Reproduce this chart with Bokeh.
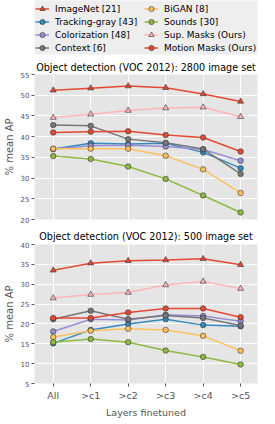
from bokeh.plotting import figure
from bokeh.models import Legend, LegendItem, Title, FixedTicker, Range1d
from bokeh.layouts import column
from bokeh.embed import file_html
from bokeh.resources import INLINE

layers = ["All", ">c1", ">c2", ">c3", ">c4", ">c5"]
xs = [0, 1, 2, 3, 4, 5]

names = ["ImageNet [21]", "Tracking-gray [43]", "Colorization [48]", "Context [6]",
         "BiGAN [8]", "Sounds [30]", "Sup. Masks (Ours)", "Motion Masks (Ours)"]

# 2800 image set
imagenet_2800 = [51.2, 51.7, 52.2, 51.8, 50.3, 48.5]
tracking_2800 = [37.0, 38.4, 38.2, 38.4, 36.2, 32.4]
colorization_2800 = [37.0, 37.8, 37.9, 37.6, 36.9, 34.2]
context_2800 = [42.8, 42.6, 39.4, 38.5, 37.0, 31.0]
bigan_2800 = [37.1, 37.1, 37.1, 35.4, 32.1, 26.4]
sounds_2800 = [35.3, 34.6, 32.8, 29.8, 25.8, 21.7]
supmasks_2800 = [44.6, 45.4, 46.3, 46.9, 47.1, 44.8]
motion_2800 = [41.0, 41.2, 41.3, 40.4, 39.8, 36.4]

# 500 image set
imagenet_500 = [33.5, 35.3, 35.9, 36.1, 36.4, 34.9]
tracking_500 = [15.1, 18.5, 20.0, 21.2, 19.7, 19.4]
colorization_500 = [18.1, 21.2, 21.0, 22.3, 22.0, 20.7]
context_500 = [21.2, 23.3, 21.2, 22.1, 21.5, 19.6]
bigan_500 = [16.7, 18.3, 18.8, 18.5, 17.0, 13.25]
sounds_500 = [15.4, 16.2, 15.4, 13.3, 11.7, 9.8]
supmasks_500 = [26.5, 27.4, 27.9, 29.8, 30.7, 28.9]
motion_500 = [21.5, 21.5, 22.9, 23.9, 23.9, 21.7]

colors = ["#E24A33", "#348ABD", "#988ED5", "#777777", "#FBC15E", "#8EBA42", "#FFB5B8", "#E24A33"]
markers = ["triangle", "circle", "circle", "circle", "circle", "circle", "triangle", "circle"]

series_2800 = [imagenet_2800, tracking_2800, colorization_2800, context_2800,
               bigan_2800, sounds_2800, supmasks_2800, motion_2800]
series_500 = [imagenet_500, tracking_500, colorization_500, context_500,
              bigan_500, sounds_500, supmasks_500, motion_500]

FONT = "DejaVu Sans"
W = 259


def make_fig(height, ylo, yhi, title, show_x, top, bottom, tstand):
    yt = list(range(ylo, yhi + 1, 5))
    p = figure(width=W, height=height, output_backend="svg", toolbar_location=None,
               x_range=Range1d(-0.5, 5.45), y_range=Range1d(ylo, yhi),
               min_border_left=4, min_border_right=2, min_border_top=top,
               min_border_bottom=bottom)
    p.background_fill_color = "#e5e5e5"
    p.border_fill_color = "white"
    p.outline_line_color = None
    p.grid.grid_line_color = "white"
    p.grid.grid_line_width = 1
    p.xgrid.ticker = FixedTicker(ticks=xs)
    p.ygrid.ticker = FixedTicker(ticks=yt)

    p.xaxis.ticker = FixedTicker(ticks=xs)
    p.xaxis.major_label_overrides = {i: l for i, l in zip(xs, layers)}
    p.xaxis.axis_line_color = None
    p.xaxis.major_tick_line_color = "#555555"
    p.xaxis.major_tick_out = 3
    p.xaxis.major_tick_in = 0
    p.xaxis.minor_tick_line_color = None
    p.xaxis.major_label_text_font = FONT
    p.xaxis.major_label_text_font_size = "9.5px"
    p.xaxis.major_label_text_color = "#555555"
    p.xaxis.major_label_standoff = 3
    p.xaxis.axis_label_text_font = FONT
    p.xaxis.axis_label_text_font_size = "9.5px"
    p.xaxis.axis_label_text_font_style = "normal"
    p.xaxis.axis_label_text_color = "#555555"
    p.xaxis.axis_label_standoff = 3
    if show_x:
        p.xaxis.axis_label = "Layers finetuned"
    else:
        p.xaxis.visible = False

    p.yaxis.ticker = FixedTicker(ticks=yt)
    p.yaxis.axis_line_color = None
    p.yaxis.major_tick_line_color = "#555555"
    p.yaxis.major_tick_out = 3
    p.yaxis.major_tick_in = 0
    p.yaxis.minor_tick_line_color = None
    p.yaxis.major_label_text_font = FONT
    p.yaxis.major_label_text_font_size = "7px"
    p.yaxis.major_label_text_color = "#555555"
    p.yaxis.major_label_standoff = 2
    p.yaxis.axis_label = "% mean AP"
    p.yaxis.axis_label_text_font = FONT
    p.yaxis.axis_label_text_font_size = "10px"
    p.yaxis.axis_label_text_font_style = "normal"
    p.yaxis.axis_label_text_color = "#555555"
    p.yaxis.axis_label_standoff = 3

    p.title = Title(text=title, text_font=FONT, text_font_size="9.6px",
                    text_font_style="normal", text_color="black", align="center",
                    standoff=tstand)
    return p


def draw(p, series):
    rends = []
    for s, c, m in zip(series, colors, markers):
        l = p.line(xs, s, line_color=c, line_width=1.5)
        sc = p.scatter(xs, s, marker=m, size=6 if m == "triangle" else 5.5,
                       fill_color=c, line_color="#333333", line_width=0.6)
        rends.append([l, sc])
    return rends


# legend figure (series drawn outside its visible range; only the legends show)
pl = figure(width=W, height=58, output_backend="svg", toolbar_location=None,
            x_range=Range1d(0, 1), y_range=Range1d(0, 1),
            min_border_left=25, min_border_right=0, min_border_top=0,
            min_border_bottom=4)
pl.axis.visible = False
pl.grid.visible = False
pl.outline_line_color = None
pl.background_fill_color = "#eeeeee"
pl.border_fill_color = "white"
lrends = draw(pl, series_2800)


def make_legend(idx, x):
    items = [LegendItem(label=names[i], renderers=lrends[i]) for i in idx]
    return Legend(items=items, orientation="vertical",
                  label_text_font=FONT, label_text_font_size="9px",
                  label_text_color="black",
                  glyph_width=14, glyph_height=13, label_height=13, label_standoff=6,
                  spacing=0, padding=1, margin=0, background_fill_alpha=0,
                  border_line_color=None, location=(x, 0))


pl.add_layout(make_legend([0, 1, 2, 3], 1))
pl.add_layout(make_legend([4, 5, 6, 7], 110))

p1 = make_fig(166, 20, 55, "Object detection (VOC 2012): 2800 image set", False, 16, 5, 3)
draw(p1, series_2800)
p2 = make_fig(196, 5, 40, "Object detection (VOC 2012): 500 image set", True, 20, 30, 5)
draw(p2, series_500)

layout = column(pl, p1, p2, spacing=0)
open("out.html", "w").write(file_html(layout, INLINE))
